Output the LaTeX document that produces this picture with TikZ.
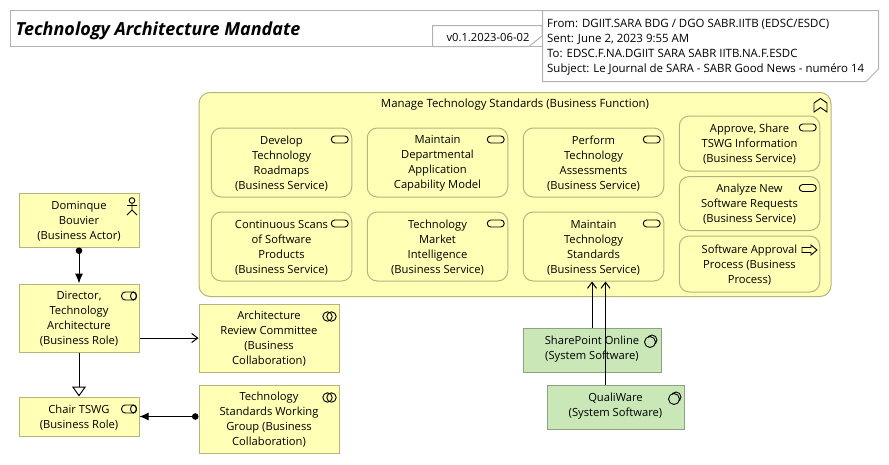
\documentclass[tikz,border=0pt]{standalone}
\usepackage{fontspec}
\setmainfont{Open Sans}
\usetikzlibrary{arrows.meta}
\definecolor{yel}{HTML}{FFFFB5}
\definecolor{yelb}{HTML}{B4B47E}
\definecolor{grn}{HTML}{C9E7B7}
\definecolor{grnb}{HTML}{8CA280}
\definecolor{frame}{HTML}{B2B2B2}
\tikzset{
  x=1pt,y=-1pt,
  txt/.style={font=\fontsize{11.2}{15}\selectfont,align=center,text=black,inner sep=0pt},
  base/.style={draw,line width=1pt,anchor=center,inner sep=0pt},
  ybox/.style={base,fill=yel,draw=yelb},
  gbox/.style={base,fill=grn,draw=grnb},
  svc/.style={ybox,rounded corners=10pt},
  ic/.style={draw=black,line width=0.9pt,fill=none},
  conn/.style={draw=black,line width=1pt},
  frameline/.style={draw=frame,line width=1pt,fill=white},
  pics/svcicon/.style={code={\draw[ic,rounded corners=3.5pt] (-8.5,-3.5) rectangle (8.5,3.5);}},
  pics/roleicon/.style={code={\draw[ic,rounded corners=3.8pt] (-7.5,-4) rectangle (7.5,4);\draw[ic] (4.5,0) ellipse (3 and 4);}},
  pics/collabicon/.style={code={\draw[ic] (-2,0) circle (4.7);\draw[ic] (2,0) circle (4.7);}},
  pics/sysicon/.style={code={\draw[ic] (2,-2) circle (5);\draw[ic,fill=grn] (0,0) circle (5.5);}},
}
% box with its text set 1px below the centre, as in the reference
\newcommand{\boxnode}[7]{%
  \node[#2,minimum width=#5pt,minimum height=#6pt] (#1) at (#3,#4) {};
  \node[txt] (#1text) at ([yshift=-1pt]#1.center) {#7};}
\newcommand{\svcnode}[6]{%
  \boxnode{#1}{svc}{#2}{#3}{#4}{#5}{#6}
  \pic at ([xshift=-12.5pt,yshift=#5pt/2-11.5pt]#1.east) {svcicon};}
\begin{document}
\begin{tikzpicture}
\useasboundingbox (0,0) rectangle (889,464);
% header
\path[frameline] (10.5,10.5) -- (542,10.5) -- (542,46.5) -- (10.5,46.5) -- cycle;
\node[txt,anchor=west,font=\fontsize{18}{20}\selectfont\bfseries\itshape] (title) at (15.5,31) {Technology Architecture Mandate};
\path[frameline] (432.5,25.5) -- (542,25.5) -- (542,36) -- (529,46.5) -- (432.5,46.5) -- cycle;
\node[txt] (version) at (488,38) {v0.1.2023-06-02};
\path[frameline] (542.5,10.5) -- (878.5,10.5) -- (878.5,69) -- (866,81.5) -- (542.5,81.5) -- cycle;
\node[txt,anchor=north west,align=left,font=\fontsize{11.45}{15}\selectfont] (mail) at (547,19) {From: DGIIT.SARA BDG / DGO SABR.IITB (EDSC/ESDC)\\Sent: June 2, 2023 9:55 AM\\To: EDSC.F.NA.DGIIT SARA SABR IITB.NA.F.ESDC\\Subject: Le Journal de SARA - SABR Good News - numéro 14};
% function
\node[ybox,rounded corners=11pt,minimum width=632pt,minimum height=204pt] (fn) at (515,194.5) {};
\node[txt,font=\fontsize{11.4}{15}\selectfont] (fntitle) at (515,105) {Manage Technology Standards (Business Function)};
\draw[ic] (820.5,98.5) -- (827,103) -- (827,112) -- (820.5,107.5) -- (814,112) -- (814,103) -- cycle;
% services
\svcnode{s1}{281.5}{162.5}{140.5}{69}{Develop\\Technology\\Roadmaps\\(Business Service)}
\svcnode{s2}{437.5}{162.5}{140.5}{69}{Maintain\\Departmental\\Application\\Capability Model}
\svcnode{s3}{593.5}{162.5}{140.5}{69}{Perform\\Technology\\Assessments\\(Business Service)}
\svcnode{s4}{281.5}{246.5}{140.5}{69}{Continuous Scans\\of Software\\Products\\(Business Service)}
\svcnode{s5}{437.5}{246.5}{140.5}{69}{Technology\\Market\\Intelligence\\(Business Service)}
\svcnode{mts}{593.5}{246.5}{140.5}{69}{Maintain\\Technology\\Standards\\(Business Service)}
\svcnode{s7}{749.5}{143.5}{140.5}{55}{Approve, Share\\TSWG Information\\(Business Service)}
\svcnode{s8}{749.5}{203.5}{140.5}{54}{Analyze New\\Software Requests\\(Business Service)}
\boxnode{s9}{svc}{749.5}{264}{140.5}{56}{Software Approval\\Process (Business\\Process)}
\draw[ic,fill=yel] (802,247.5) -- (811,247.5) -- (811,245) -- (817,250) -- (811,255) -- (811,252.5) -- (802,252.5) -- cycle;
% left column
\boxnode{actor}{ybox}{79}{220}{120}{54}{Dominque\\Bouvier\\(Business Actor)}
\draw[ic] (132,200.5) circle (2.8) (132,203.3) -- (132,210) (127,205.5) -- (137,205.5) (127,215) -- (132,210) -- (137,215);
\boxnode{director}{ybox}{79}{318}{120}{68}{Director,\\Technology\\Architecture\\(Business Role)}
\pic at (129,296) {roleicon};
\boxnode{chair}{ybox}{79}{416.5}{120}{39}{Chair TSWG\\(Business Role)}
\pic at (129,409) {roleicon};
\boxnode{arc}{ybox}{269}{338}{140}{68}{Architecture\\Review Committee\\(Business\\Collaboration)}
\pic at (329.5,316.5) {collabicon};
\boxnode{tswg}{ybox}{269}{419}{140}{68}{Technology\\Standards Working\\Group (Business\\Collaboration)}
\pic at (329.5,397.5) {collabicon};
% system software
\node[gbox,minimum width=138pt,minimum height=44pt] (sp) at (592,350) {};
\node[txt] (sptxt) at (592,349.5) {SharePoint Online\\(System Software)};
\pic at (650,342) {sysicon};
\node[gbox,minimum width=137pt,minimum height=44pt] (qw) at (615.5,407) {};
\node[txt] (qwtxt) at (615.5,406.5) {QualiWare\\(System Software)};
\pic at (674,399) {sysicon};
% connectors
\draw[conn,{Circle[length=6.5pt,width=6.5pt]}-{Latex[length=10pt,width=8pt]}] (actor.south) -- (director.north);
\draw[conn,-{Straight Barb[length=6pt,width=9pt]}] (director.east |- arc.west) -- (arc.west);
\draw[conn,-{Triangle[open,length=10pt,width=14pt,fill=white]}] (director.south) -- (chair.north);
\draw[conn,{Circle[length=6.5pt,width=6.5pt]}-{Latex[length=9pt,width=8pt]}] (tswg.west |- chair.east) -- (chair.east);
\draw[conn,-{Straight Barb[length=6pt,width=9pt]}] (sp.north) -- (sp.north |- mts.south);
\draw[conn,-{Straight Barb[length=6pt,width=9pt]}] ([xshift=-10pt]qw.north) -- ([xshift=-10pt]qw.north |- mts.south);
\end{tikzpicture}
\end{document}
